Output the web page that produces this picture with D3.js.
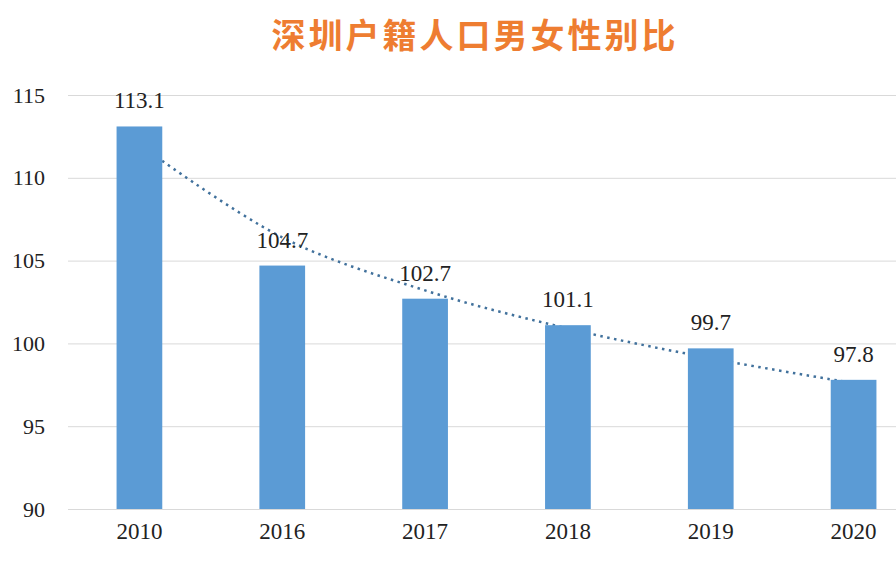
<!DOCTYPE html>
<html><head><meta charset="utf-8">
<script src="https://cdn.jsdelivr.net/npm/d3@7"></script>
<style>body{margin:0;background:#fff}svg{display:block}</style>
</head><body>
<svg id="c" width="896" height="562"></svg>
<script>
const categories = ["2010","2016","2017","2018","2019","2020"];
const ratioValues = [113.1,104.7,102.7,101.1,99.7,97.8];
const trendValues = [112.0,106.4,103.2,100.9,99.1,97.6];
const yTicks = [90,95,100,105,110,115];
const title = "深圳户籍人口男女性别比";

const svg = d3.select("#c");
const x = d3.scaleBand().domain(categories).range([68,925]).paddingInner(0.68).paddingOuter(0.34);
const y = d3.scaleLinear().domain([90,115]).range([509,95]);

svg.append("text").attr("x",475).attr("y",48).attr("text-anchor","middle")
  .attr("font-family","'Noto Sans CJK SC'").attr("font-weight",700).attr("font-size",34)
  .attr("letter-spacing",3).attr("fill","#EE7D31").text(title);

const ya = svg.append("g").attr("transform","translate(68,0)")
  .call(d3.axisLeft(y).tickValues(yTicks).tickSize(-(896-68)).tickPadding(23));
ya.select(".domain").remove();
ya.selectAll(".tick line").attr("stroke","#d9d9d9").attr("stroke-width",1);
ya.selectAll(".tick text").attr("font-family","'Liberation Serif'").attr("font-size",22).attr("fill","#222");

const cx = d => x(d) + x.bandwidth()/2;
const line = d3.line().x((d,i)=>cx(categories[i])).y(d=>y(d)).curve(d3.curveCatmullRom);
svg.append("path").datum(trendValues).attr("d",line).attr("fill","none")
  .attr("stroke","#41719C").attr("stroke-width",2.5).attr("stroke-dasharray","2.5 4.5").attr("stroke-linecap","butt");

svg.selectAll("rect.bar").data(ratioValues).join("rect").attr("class","bar")
  .attr("x",(d,i)=>x(categories[i])).attr("width",x.bandwidth())
  .attr("y",d=>y(d)).attr("height",d=>y(90)-y(d)).attr("fill","#5B9BD5");

svg.selectAll("text.lbl").data(ratioValues).join("text").attr("class","lbl")
  .attr("x",(d,i)=>cx(categories[i])).attr("y",d=>y(d)-18).attr("text-anchor","middle")
  .attr("font-family","'Liberation Serif'").attr("font-size",23).attr("fill","#222")
  .text(d=>d.toFixed(1));

const xa = svg.append("g").attr("transform","translate(0,509)")
  .call(d3.axisBottom(x).tickSize(0).tickPadding(14));
xa.select(".domain").remove();
xa.selectAll(".tick text").attr("font-family","'Liberation Serif'").attr("font-size",23).attr("fill","#222");
</script>
</body></html>
